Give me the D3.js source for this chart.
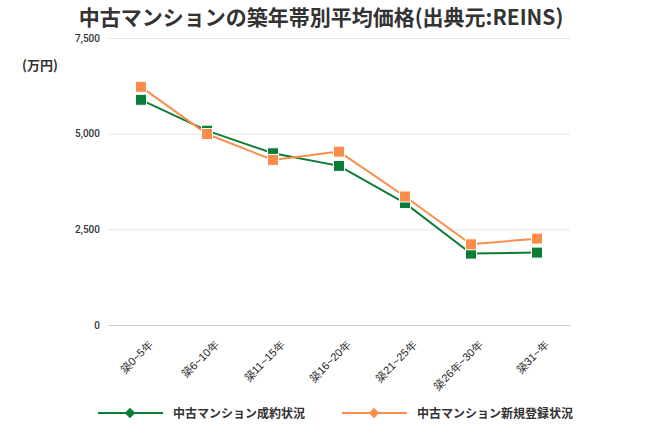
<!DOCTYPE html>
<html><head><meta charset="utf-8">
<script src="https://cdn.jsdelivr.net/npm/d3@7/dist/d3.min.js"></script>
<style>body{margin:0;background:#fff;font-family:"Noto Sans CJK JP","Noto Sans",sans-serif;}</style>
</head><body>
<svg id="c" width="650" height="433"></svg>
<script>
const categories = ["築0~5年","築6~10年","築11~15年","築16~20年","築21~25年","築26年~30年","築31~年"];
const seriesNames = ["中古マンション成約状況","中古マンション新規登録状況"];
const contracted = [5885, 5078, 4487, 4158, 3186, 1866, 1892];
const registered = [6224, 4991, 4314, 4531, 3359, 2109, 2257];
const yTicks = [0, 2500, 5000, 7500];
const colors = ["#0b7d36", "#fb8d4b"];

const svg = d3.select("#c");
const m = {l:108, r:80, t:38, b:108};
const W = 650, H = 433;
const x = d3.scaleBand().domain(categories).range([m.l, W - m.r]);
const y = d3.scaleLinear().domain([0, 7500]).range([H - m.b, m.t]);

svg.append("text").attr("x", 321).attr("y", 25).attr("text-anchor","middle")
  .attr("font-size", 21).attr("font-weight", "bold").attr("fill", "#333")
  .text("中古マンションの築年帯別平均価格(出典元:REINS)");

svg.append("text").attr("x", 22).attr("y", 70).attr("font-size", 13).attr("font-weight","bold").attr("fill","#333").text("(万円)");

const yAxis = svg.append("g").attr("transform", `translate(${m.l},0)`)
  .call(d3.axisLeft(y).tickValues(yTicks).tickSize(-(W - m.l - m.r)).tickPadding(8).tickFormat(d3.format(",")));
yAxis.select(".domain").remove();
yAxis.selectAll("line").attr("stroke", "#e6e6e6");
yAxis.selectAll("text").attr("font-size", 10).attr("fill", "#333").attr("font-weight", 500)
  .attr("font-family","Roboto,'Noto Sans',sans-serif");

const xAxis = svg.append("g").attr("transform", `translate(0,${H - m.b})`)
  .call(d3.axisBottom(x).tickSize(0).tickPadding(8));
xAxis.select(".domain").attr("stroke", "#ccc");
xAxis.selectAll("text").attr("font-size", 11).attr("fill", "#222").attr("font-weight", 500)
  .attr("text-anchor", "end").attr("dy", "0.35em")
  .attr("transform", "translate(4,12) rotate(-45)");

const series = [contracted, registered];
const line = d3.line().x((d,i) => x(categories[i]) + x.bandwidth()/2).y(d => y(d));
series.forEach((vals, s) => {
  svg.append("path").datum(vals).attr("d", line).attr("fill","none")
    .attr("stroke", colors[s]).attr("stroke-width", 2);
});
series.forEach((vals, s) => {
  svg.selectAll(null).data(vals).enter().append("rect")
    .attr("x", (d,i) => x(categories[i]) + x.bandwidth()/2 - 5.5)
    .attr("y", d => y(d) - 5.5).attr("width", 11).attr("height", 11)
    .attr("fill", colors[s]).attr("stroke", "#fff").attr("stroke-width", 1);
});

// legend
const leg = [{x:98, tx:173}, {x:342, tx:417}];
seriesNames.forEach((n, s) => {
  const g = svg.append("g");
  const ly = 413;
  g.append("line").attr("x1", leg[s].x).attr("x2", leg[s].x + 65).attr("y1", ly).attr("y2", ly)
    .attr("stroke", colors[s]).attr("stroke-width", 2);
  g.append("path").attr("d", d3.symbol(d3.symbolSquare, 56)())
    .attr("transform", `translate(${leg[s].x + 32},${ly}) rotate(45)`).attr("fill", colors[s]);
  g.append("text").attr("x", leg[s].tx).attr("y", ly + 4.5).attr("font-size", 12).attr("font-weight","bold")
    .attr("fill", "#333").text(n);
});
</script>
</body></html>
